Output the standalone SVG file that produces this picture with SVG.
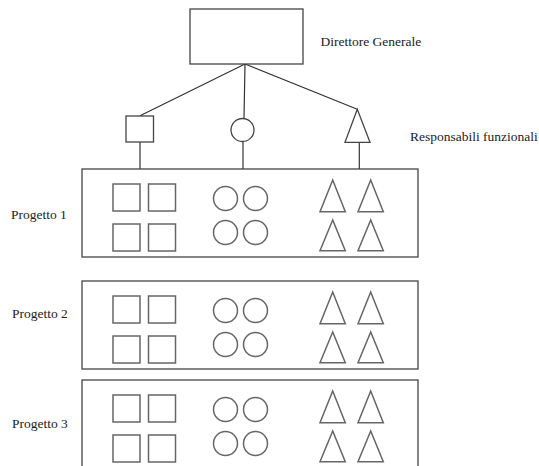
<svg xmlns="http://www.w3.org/2000/svg" width="539" height="466" viewBox="0 0 539 466">
<style>
.ln{stroke:#333;stroke-width:1.2;fill:none}
.box{stroke:#444;stroke-width:1.3;fill:#fff}
.sh{stroke:#666;stroke-width:1.5;fill:#fff}
.lab{font-family:"Liberation Serif","DejaVu Serif",serif;font-size:13.5px;fill:#222}
</style>
<defs>
<g id="inner">
<rect class="sh" x="113" y="15" width="27" height="27"/>
<rect class="sh" x="148.5" y="15" width="27" height="27"/>
<rect class="sh" x="113" y="55" width="27" height="27"/>
<rect class="sh" x="148.5" y="55" width="27" height="27"/>
<circle class="sh" cx="225.5" cy="29.5" r="12"/>
<circle class="sh" cx="255.5" cy="29.5" r="12"/>
<circle class="sh" cx="225.5" cy="63.5" r="12"/>
<circle class="sh" cx="255.5" cy="63.5" r="12"/>
<polygon class="sh" points="332.7,11 320,42.7 345.3,42.7"/>
<polygon class="sh" points="370.7,11 358,42.7 383.3,42.7"/>
<polygon class="sh" points="332.7,51 320,81.7 345.3,81.7"/>
<polygon class="sh" points="370.7,51 358,81.7 383.3,81.7"/>
</g>
</defs>
<g id="connectors">
<line class="ln" x1="245" y1="64" x2="140" y2="115.7"/>
<line class="ln" x1="245" y1="64" x2="244" y2="118"/>
<line class="ln" x1="245" y1="64" x2="357.3" y2="109.3"/>
<line class="ln" x1="140" y1="141.7" x2="140" y2="169"/>
<line class="ln" x1="243" y1="142" x2="243" y2="169"/>
<line class="ln" x1="359.3" y1="142.3" x2="359.3" y2="169"/>
</g>
<g id="direttore">
<rect class="box" x="190" y="9" width="113" height="55"/>
<text class="lab" x="320.5" y="46">Direttore Generale</text>
</g>
<g id="responsabili">
<rect class="box" x="126" y="116" width="27.5" height="26"/>
<circle class="box" cx="242.5" cy="130" r="11.5"/>
<polygon class="box" points="357.3,109.3 345,142.3 370,142.3"/>
<text class="lab" x="410" y="141">Responsabili funzionali</text>
</g>
<g id="progetto1">
<rect class="box" x="82" y="169" width="336" height="88"/>
<use href="#inner" y="169"/>
<text class="lab" x="11" y="219">Progetto 1</text>
</g>
<g id="progetto2">
<rect class="box" x="82" y="281" width="336" height="88"/>
<use href="#inner" y="281"/>
<text class="lab" x="12" y="318">Progetto 2</text>
</g>
<g id="progetto3">
<rect class="box" x="82" y="380" width="336" height="100"/>
<use href="#inner" y="380"/>
<text class="lab" x="12" y="428">Progetto 3</text>
</g>
</svg>
